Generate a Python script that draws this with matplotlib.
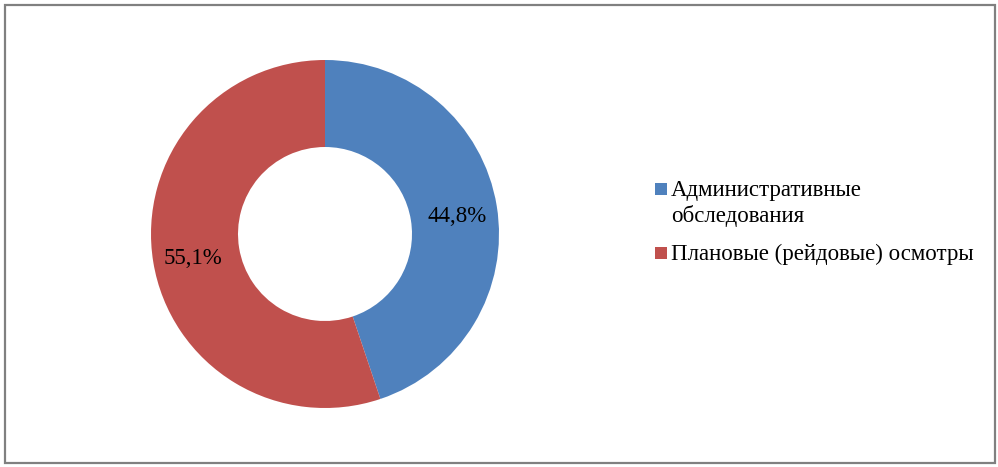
import matplotlib
matplotlib.use("Agg")
import matplotlib.pyplot as plt
from matplotlib.patches import Rectangle
import numpy as np

categories = ["Административные\nобследования", "Плановые (рейдовые) осмотры"]
shares = [44.8, 55.1]
share_labels = ["44,8%", "55,1%"]
colors = ["#4F81BD", "#C0504D"]

W, H = 998, 467
plt.rcParams["font.family"] = ["Liberation Serif", "DejaVu Serif"]
fig = plt.figure(figsize=(W / 100, H / 100), dpi=100)


def fx(px):
    return px / W


def fy(py):
    return 1 - py / H


# outer frame
fig.patches.append(Rectangle((fx(5), fy(462.5)), fx(989.5), 458 / H, transform=fig.transFigure,
                             fill=False, edgecolor="#808080", linewidth=1.6))

cx, cy, r = 325, 234, 174
ax = fig.add_axes([(cx - r) / W, (H - cy - r) / H, 2 * r / W, 2 * r / H])
ax.pie(shares, colors=colors, startangle=90, counterclock=False, radius=1,
       wedgeprops=dict(width=0.5, edgecolor="none"))
ax.set_xlim(-1, 1)
ax.set_ylim(-1, 1)
ax.axis("off")

total = sum(shares)
start = 90.0
for w, lab in zip(shares, share_labels):
    ang = np.deg2rad(start - w / total * 180)
    ax.text(0.77 * np.cos(ang), 0.75 * np.sin(ang) - 0.02, lab, ha="center", va="center",
            fontsize=16.5, color="black")
    start -= w / total * 360

# legend, drawn by hand so the marker sits on the first text line
entry_top = [183, 247]
for top, c, lab in zip(entry_top, colors, categories):
    fig.patches.append(Rectangle((fx(655), fy(top + 11.5)), fx(11.5), 11.5 / H,
                                 transform=fig.transFigure, facecolor=c, edgecolor="none"))
    fig.text(fx(671), fy(top - 3), lab, ha="left", va="top", fontsize=16.5,
             linespacing=1.22, color="black")

fig.savefig("out.png", dpi=100)
